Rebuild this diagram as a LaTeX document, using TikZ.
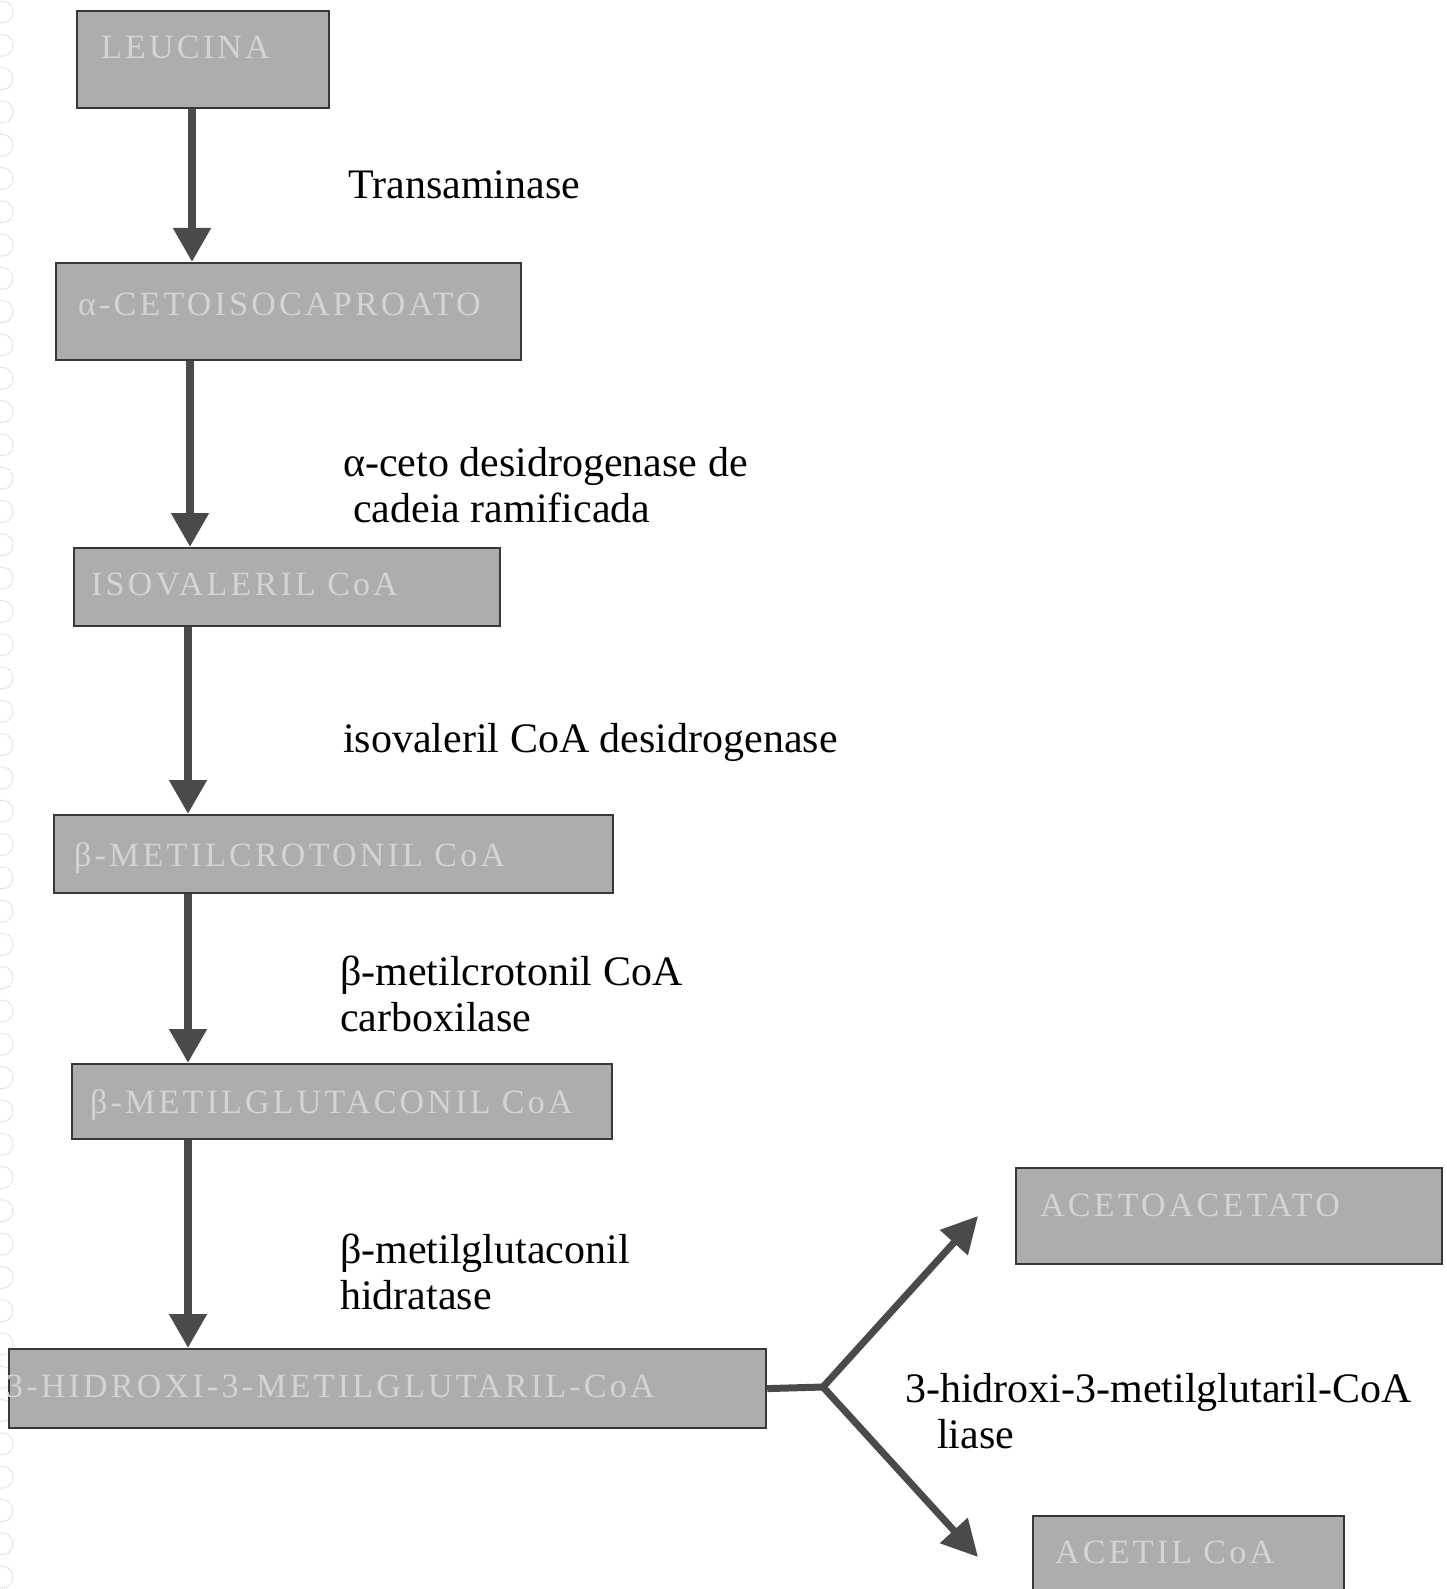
\documentclass[tikz,border=0pt]{standalone}
\usepackage{fontspec}
\setmainfont{Liberation Serif}
\newfontfamily\boxfont[LetterSpace=9.5]{Liberation Serif}
\usetikzlibrary{arrows.meta}
\definecolor{boxfill}{HTML}{ADADAD}
\definecolor{boxtext}{HTML}{D4D4D4}
\definecolor{arrowc}{HTML}{4A4A4A}
\definecolor{edgec}{HTML}{383838}
\begin{document}
\begin{tikzpicture}[x=1pt,y=-1pt,
  box/.style={draw=edgec, line width=2.2pt, fill=boxfill, anchor=north west,
    text=boxtext, font=\boxfont\fontsize{34}{38}\selectfont, align=left,
    text height=24pt, text depth=0pt, inner ysep=0pt},
  lbl/.style={anchor=base west, align=left, inner sep=0pt,
    font=\fontsize{42}{46}\selectfont},
  arr/.style={draw=arrowc, line width=8pt, -{Triangle[width=36pt,length=34pt]}},
  brarr/.style={draw=arrowc, line width=7pt, line join=round,
    -{Triangle[width=36pt,length=36pt]}},
  hole/.style={draw=gray!35, densely dotted, line width=1pt}]
\useasboundingbox (0,0) rectangle (1447,1589);
\clip (0,0) rectangle (1447,1589);
\fill[white] (0,0) rectangle (1447,1589);
% binder-hole marks along the left edge
\foreach \k in {0,...,47} \draw[hole] (2,{12+\k*33.3}) circle (11);

% boxes
\node[box, minimum width=252, minimum height=97, inner xsep=24, text width=204, text depth=26pt]
  (leu) at (76,10) {LEUCINA};
\node[box, minimum width=465, minimum height=97, inner xsep=22, text width=421, text depth=16pt]
  (ceto) at (55,262) {α-CETOISOCAPROATO};
\node[box, minimum width=426, minimum height=78, inner xsep=17, text width=392, text depth=8pt]
  (iso) at (73,547) {ISOVALERIL CoA};
\node[box, minimum width=559, minimum height=78, inner xsep=20, text width=519]
  (crot) at (53,814) {β-METILCROTONIL CoA};
\node[box, minimum width=540, minimum height=75, inner xsep=18, text width=504]
  (glut) at (71,1063) {β-METILGLUTACONIL CoA};
\node[box, minimum width=757, minimum height=79, inner xsep=-3, text width=763, text depth=6pt]
  (hmg) at (8,1348) {3-HIDROXI-3-METILGLUTARIL-CoA};
\node[box, minimum width=426, minimum height=96, inner xsep=24, text width=378, text depth=24pt]
  (aceto) at (1015,1167) {ACETOACETATO};
\node[box, minimum width=311, minimum height=80, inner xsep=22, text width=267, text depth=10pt]
  (acetil) at (1032,1515) {ACETIL CoA};

% enzyme labels (base = baseline of the last line)
\node[lbl] (e1) at (348,199) {Transaminase};
\node[lbl] (e2) at (343,522) {α-ceto desidrogenase de\\\hspace*{10pt}cadeia ramificada};
\node[lbl] (e3) at (343,752) {isovaleril CoA desidrogenase};
\node[lbl] (e4) at (340,1031) {β-metilcrotonil CoA\\carboxilase};
\node[lbl] (e5) at (340,1309) {β-metilglutaconil\\hidratase};
\node[lbl] (e6) at (905,1448) {3-hidroxi-3-metilglutaril-CoA\\\hspace*{32pt}liase};

% vertical arrows
\coordinate (colA) at (192,0);
\coordinate (colB) at (190,0);
\coordinate (colC) at (188,0);
\draw[arr] (leu.south -| colA) -- (ceto.north -| colA);
\draw[arr] (ceto.south -| colB) -- (iso.north -| colB);
\draw[arr] (iso.south -| colC) -- (crot.north -| colC);
\draw[arr] (crot.south -| colC) -- (glut.north -| colC);
\draw[arr] (glut.south -| colC) -- (hmg.north -| colC);

% branching arrows
\coordinate (j) at (823,1387);
\coordinate (tA) at (978,1216);
\coordinate (tB) at (978,1557);
\draw[draw=arrowc, line width=7pt] (hmg.east) -- (j);
\draw[brarr] (j) -- (tA);
\draw[brarr] (j) -- (tB);
\end{tikzpicture}
\end{document}
